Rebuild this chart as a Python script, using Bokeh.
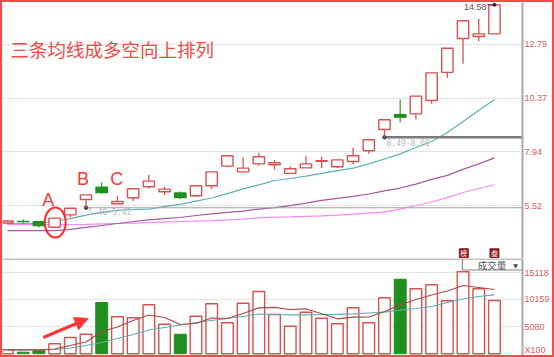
from bokeh.plotting import figure
from bokeh.layouts import column
from bokeh.models import Range1d, FixedTicker, Span, Arrow, NormalHead, ColumnDataSource
from bokeh.core.properties import value
from bokeh.embed import file_html
from bokeh.resources import INLINE

# ---------------- data ----------------
idx = list(range(32))
opens  = [4.73, 4.81, 4.79, 4.54, 5.10, 5.79, 6.35, 5.60, 5.87, 6.37, 6.14, 6.09, 5.96, 6.41, 7.30, 7.04,
          7.40, 7.36, 6.97, 7.22, 7.52, 7.27, 7.51, 7.99, 8.95, 9.63, 9.66, 10.26, 11.53, 13.06, 13.15, 13.27]
highs  = [4.88, 4.89, 4.82, 4.95, 5.40, 6.00, 6.57, 5.94, 6.28, 6.91, 6.37, 6.15, 6.41, 7.04, 7.77, 7.70,
          7.90, 7.58, 7.28, 7.75, 7.72, 7.58, 8.13, 8.49, 9.39, 10.31, 10.46, 11.51, 12.62, 13.86, 13.95, 14.58]
lows   = [4.68, 4.73, 4.53, 4.54, 4.98, 5.42, 6.05, 5.60, 5.72, 6.29, 6.00, 5.82, 5.90, 6.28, 7.25, 7.04,
          7.33, 7.13, 6.97, 7.22, 7.21, 7.21, 7.40, 7.86, 8.60, 9.28, 9.40, 10.11, 11.29, 11.92, 12.94, 13.27]
closes = [4.82, 4.79, 4.61, 4.95, 5.40, 6.00, 6.10, 5.70, 6.28, 6.62, 6.26, 5.88, 6.41, 7.04, 7.77, 7.21,
          7.72, 7.45, 7.18, 7.40, 7.54, 7.58, 7.77, 8.49, 9.39, 9.51, 10.46, 11.51, 12.62, 13.86, 13.27, 14.58]
ma_teal   = [4.71, 4.71, 4.73, 4.80, 4.93, 5.09, 5.21, 5.30, 5.34, 5.36, 5.48, 5.57, 5.72, 5.86, 6.06, 6.27,
             6.45, 6.65, 6.74, 6.85, 6.97, 7.10, 7.21, 7.40, 7.62, 7.85, 8.14, 8.41, 8.82, 9.31, 9.81, 10.31]
ma_purple = [4.39, 4.39, 4.39, 4.39, 4.44, 4.53, 4.62, 4.71, 4.80, 4.87, 4.93, 4.98, 5.07, 5.14, 5.21, 5.27,
             5.36, 5.43, 5.52, 5.63, 5.75, 5.84, 5.93, 6.04, 6.18, 6.31, 6.49, 6.70, 6.88, 7.15, 7.40, 7.67]
ma_pink   = [4.66, 4.66, 4.66, 4.66, 4.66, 4.67, 4.69, 4.71, 4.73, 4.75, 4.78, 4.80, 4.82, 4.84, 4.87, 4.91,
             4.96, 5.00, 5.01, 5.03, 5.05, 5.09, 5.13, 5.18, 5.23, 5.36, 5.52, 5.68, 5.88, 6.11, 6.29, 6.46]
volumes = [728, 280, 600, 1850, 3026, 3640, 9564, 6893, 6706, 9135, 5510, 3640, 7005, 9321, 5772, 9433,
           11619, 7324, 5137, 7752, 6631, 5585, 8574, 5772, 10442, 13917, 12123, 12871, 9882, 15299, 12123, 9938]
vol_ma_red  = [728, 728, 728, 878, 1532, 2186, 4147, 4988, 6202, 7229, 6762, 5455, 5641, 6669, 6575, 7509,
               8574, 8668, 8257, 8387, 7453, 6519, 6818, 6856, 7883, 9097, 10125, 10965, 11712, 12740, 12366, 11993]
vol_ma_teal = [728, 728, 728, 785, 1065, 1532, 2092, 2839, 3587, 4427, 4894, 5361, 5828, 6202, 6575, 6949,
               7416, 7323, 7266, 7266, 7285, 7360, 7453, 7603, 7752, 8163, 8443, 8817, 9564, 10218, 10685, 11003]
price_ticks = [5.52, 7.94, 10.37, 12.79]
vol_ticks = [5080, 10159, 15118]
vol_unit_pos = 691
vol_unit_label = "X100"
title_text = "三条均线成多空向上排列"
gap1 = ("5.40-5.42", 5, 5.42)
gap2 = ("8.49-8.60", 24, 8.60)
high_label = "14.58"
marks = [("A", 2.6, 5.75), ("B", 4.81, 6.73), ("C", 6.96, 6.71)]

# ---------------- style ----------------
RED = "#d65252"
GREEN = "#1f8f1f"
XR = Range1d(-0.3165, 32.785)
AX_COLOR = "#e05a5a"

def base_fig(h, yr):
    p = figure(width=550, height=h, x_range=XR, y_range=yr, output_backend="svg",
               toolbar_location=None, x_axis_location=None, y_axis_location="right",
               min_border_left=0, min_border_right=27, min_border_top=0, min_border_bottom=0,
               background_fill_color="white", border_fill_color="white")
    p.outline_line_color = None
    p.xgrid.visible = False
    ax = p.yaxis[0]
    ax.axis_line_color = "#a8a8a8"
    ax.axis_line_width = 2
    ax.major_tick_out = 0
    ax.major_tick_in = 0
    ax.minor_tick_out = 0
    ax.minor_tick_in = 0
    ax.major_label_standoff = 2
    ax.major_label_text_color = AX_COLOR
    ax.major_label_text_font = "Liberation Sans"
    ax.major_label_text_font_size = "9px"
    p.ygrid.grid_line_color = "#b4b4b4"
    p.ygrid.grid_line_dash = "1 2"
    return p

# ---------------- price panel ----------------
p1 = base_fig(256, Range1d(3.129, 14.686))
p1.yaxis[0].ticker = FixedTicker(ticks=price_ticks)
p1.ygrid.ticker = FixedTicker(ticks=price_ticks)

up = [i for i in idx if closes[i] >= opens[i]]
dn = [i for i in idx if closes[i] < opens[i]]
def cds(ids):
    return ColumnDataSource(dict(
        x=ids,
        hi=[highs[i] for i in ids], lo=[lows[i] for i in ids],
        top=[max(opens[i], closes[i]) for i in ids],
        bot=[min(opens[i], closes[i]) for i in ids],
        vol=[volumes[i] for i in ids]))
su, sd = cds(up), cds(dn)

# moving averages
p1.line(idx, ma_pink, line_color="#f48cf0", line_width=1.2)
p1.line(idx, ma_purple, line_color="#a45aa0", line_width=1.2)
p1.line(idx, ma_teal, line_color="#5fb0b4", line_width=1.2)

# gap lines
p1.segment(x0=[gap1[1]], y0=[gap1[2]], x1=[32.785], y1=[gap1[2]], line_color="#a0a0a0", line_width=1.2)
p1.segment(x0=[gap2[1]], y0=[gap2[2]], x1=[32.785], y1=[gap2[2]], line_color="#7a7a7a", line_width=2.5)
p1.scatter([gap1[1], gap2[1]], [gap1[2], gap2[2]], size=3.5, color="#444444")
p1.text([gap1[1] + 0.13, gap2[1] + 0.13], [gap1[2] - 0.17, gap2[2] - 0.22], text=[gap1[0], gap2[0]],
        text_font=value("DejaVu Sans Mono"), text_font_size=value("8px"), text_color="#b8b8b8",
        text_baseline="middle", text_align="left")

# candles
p1.segment(x0="x", y0="lo", x1="x", y1="hi", source=su, line_color=RED, line_width=1.3)
p1.segment(x0="x", y0="lo", x1="x", y1="hi", source=sd, line_color="#3aa83a", line_width=1.3)
p1.vbar(x="x", top="top", bottom="bot", width=0.72, source=su, fill_color="white",
        line_color=RED, line_width=1.4)
p1.vbar(x="x", top="top", bottom="bot", width=0.74, source=sd, fill_color=GREEN,
        line_color=GREEN, line_width=1.2)

# high label (kept just inside the top edge)
p1.segment(x0=[30.55], y0=[highs[31]], x1=[31], y1=[highs[31]], line_color="#333333", line_width=1)
p1.scatter([31], [highs[31]], size=3, color="#222222")
p1.text([30.5], [highs[31] - 0.08], text=[high_label], text_font=value("Liberation Sans"),
        text_font_size=value("9px"), text_color="#555555", text_align="right", text_baseline="middle")

# annotations
p1.text([0.19], [12.59], text=[title_text], text_font=value("Noto Sans CJK SC"),
        text_font_size=value("18.5px"), text_color="#f24a4a", text_baseline="middle", text_align="left")
p1.text([m[1] for m in marks], [m[2] for m in marks], text=[m[0] for m in marks],
        text_font=value("Liberation Sans"), text_font_size=value("18px"), text_color="#ff3a3a",
        text_align="center", text_baseline="middle")
p1.ellipse([3.04], [4.754], width=1.33, height=1.354, fill_color=None, line_color="#ff2a2a", line_width=2)

# small event icons
p1.rect([29.05, 31.0], [3.37, 3.37], width=0.57, height=0.40, fill_color="#8e1b1b", line_color="#8e1b1b")
p1.text([29.05, 31.0], [3.37, 3.37], text=["榜", "叁"], text_font=value("Noto Sans CJK SC"),
        text_font_size=value("7px"), text_color="white", text_align="center", text_baseline="middle")

# ---------------- volume panel ----------------
p2 = base_fig(97, Range1d(-336, 17783))
p2.yaxis[0].ticker = FixedTicker(ticks=[vol_unit_pos] + vol_ticks)
p2.yaxis[0].major_label_overrides = {vol_unit_pos: vol_unit_label}
p2.ygrid.ticker = FixedTicker(ticks=vol_ticks)
p2.add_layout(Span(location=17690, dimension="width", line_color="#b0b0b0", line_width=1.5))

p2.vbar(x="x", top="vol", bottom=0, width=0.74, source=su, fill_color="white", line_color=RED, line_width=1.4)
p2.vbar(x="x", top="vol", bottom=0, width=0.76, source=sd, fill_color=GREEN, line_color=GREEN, line_width=1)
p2.line(idx, vol_ma_teal, line_color="#5fb0b4", line_width=1.2)
p2.line(idx, vol_ma_red, line_color="#a84848", line_width=1.2)

p2.add_layout(Arrow(x_start=2.28, y_start=3026, x_end=5.13, y_end=6575, line_color="#ff3535", line_width=3,
                    end=NormalHead(size=13, fill_color="#ff3535", line_color="#ff3535")))

# indicator selector box
p2.segment(x0=[28.96, 28.96], y0=[15635, 15635], x1=[28.96, 32.785], y1=[17783, 15635],
           line_color="#8a8a8a", line_width=1.2)
p2.text([30.85], [16520], text=["成交量"], text_font=value("Noto Sans CJK SC"), text_font_size=value("9.5px"),
        text_color="#555555", text_align="center", text_baseline="middle")
p2.text([32.35], [16520], text=["▼"], text_font=value("DejaVu Sans"), text_font_size=value("6px"),
        text_color="#444444", text_align="center", text_baseline="middle")

layout = column(p1, p2, spacing=0, styles={"border": "2px solid #ff4848"})
open("out.html", "w").write(file_html(layout, INLINE))
